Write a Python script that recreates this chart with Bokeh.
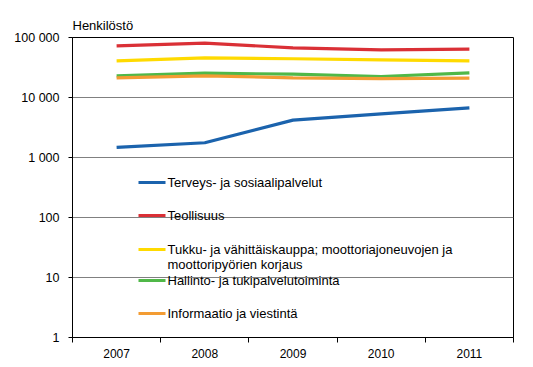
from bokeh.plotting import figure
from bokeh.models import (FixedTicker, Range1d, Label, BoxAnnotation)
from bokeh.embed import file_html
from bokeh.resources import INLINE

years = ["2007", "2008", "2009", "2010", "2011"]
terveys = [1470, 1760, 4190, 5350, 6730]
teollisuus = [72700, 80400, 67400, 62400, 63800]
kauppa = [40900, 45900, 44200, 42500, 40900]
hallinto = [23000, 25400, 24500, 22400, 25800]
informaatio = [21300, 23000, 21300, 20700, 21000]

series_names = [
    "Terveys- ja sosiaalipalvelut",
    "Teollisuus",
    "Tukku- ja vähittäiskauppa; moottoriajoneuvojen ja\nmoottoripyörien korjaus",
    "Hallinto- ja tukipalvelutoiminta",
    "Informaatio ja viestintä",
]
series_values = [terveys, teollisuus, kauppa, hallinto, informaatio]
series_colors = ["#1B63AD", "#DA3036", "#FFDA00", "#50B848", "#F39C33"]

y_ticks = [1, 10, 100, 1000, 10000, 100000]
y_tick_labels = ["1", "10", "100", "1 000", "10 000", "100 000"]
y_title = "Henkilöstö"

FONT = "Liberation Sans"

p = figure(width=533, height=367, y_axis_type="log",
           output_backend="svg", toolbar_location=None,
           x_range=Range1d(0, len(years)), y_range=Range1d(1, 100000),
           min_border_left=72, min_border_right=20,
           min_border_top=37, min_border_bottom=30)

p.title.text = y_title
p.title.align = "left"
p.title.text_font = FONT
p.title.text_font_size = "13px"
p.title.text_font_style = "normal"
p.title.text_color = "black"
p.title.standoff = 9

x = [i + 0.5 for i in range(len(years))]
for vals, col in zip(series_values, series_colors):
    p.line(x, vals, line_color=col, line_width=3.2)

# x axis
xa = p.xaxis[0]
xa.ticker = FixedTicker(ticks=x, minor_ticks=list(range(len(years) + 1)))
xa.major_label_overrides = {xv: yr for xv, yr in zip(x, years)}
xa.major_tick_out = 0
xa.major_tick_in = 0
xa.minor_tick_out = 5
xa.minor_tick_in = 0
xa.minor_tick_line_color = "black"
xa.axis_line_color = "black"
xa.major_label_standoff = 6
xa.major_label_text_font = FONT
xa.major_label_text_font_size = "12px"
xa.major_label_text_color = "black"

# y axis
ya = p.yaxis[0]
ya.ticker = FixedTicker(ticks=y_ticks, minor_ticks=[])
ya.major_label_overrides = {t: l for t, l in zip(y_ticks, y_tick_labels)}
ya.major_tick_out = 4
ya.major_tick_in = 0
ya.minor_tick_out = 0
ya.minor_tick_in = 0
ya.axis_line_color = "black"
ya.major_tick_line_color = "black"
ya.major_label_standoff = 9
ya.major_label_text_font = FONT
ya.major_label_text_font_size = "12.5px"
ya.major_label_text_color = "black"

p.xgrid.visible = False
p.ygrid.grid_line_color = "#808080"
p.ygrid.grid_line_width = 1
p.ygrid.ticker = FixedTicker(ticks=y_ticks, minor_ticks=[])
p.outline_line_color = "black"
p.outline_line_alpha = 1
p.background_fill_color = "white"
p.border_fill_color = "white"

# manual legend
row_y = [155, 122, 88, 57, 24]
for name, col, ry in zip(series_names, series_colors, row_y):
    p.add_layout(BoxAnnotation(left=66, right=93, bottom=ry - 1.5, top=ry + 1.5,
                               left_units="screen", right_units="screen",
                               bottom_units="screen", top_units="screen",
                               fill_color=col, fill_alpha=1, line_color=None))
    p.add_layout(Label(x=95, y=ry + 8, x_units="screen", y_units="screen",
                       text=name, text_font=FONT, text_font_size="13px",
                       text_baseline="top", text_align="left",
                       text_line_height=1.0, text_color="black"))

open("out.html", "w").write(file_html(p, INLINE))
